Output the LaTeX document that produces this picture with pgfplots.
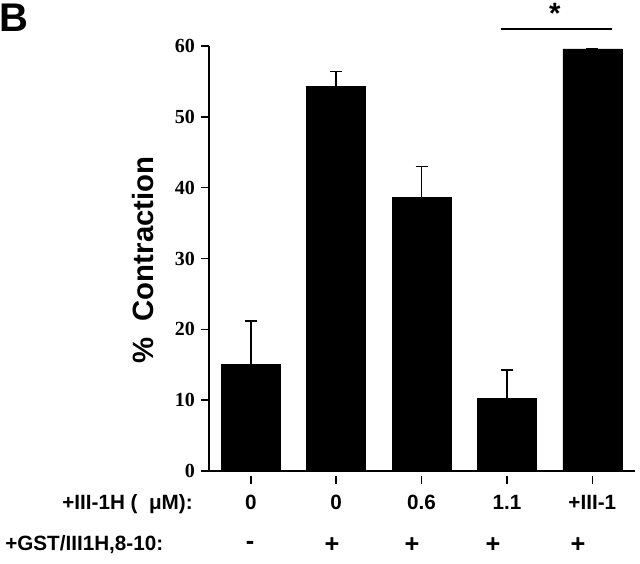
\documentclass[border=0pt]{standalone}
\usepackage{fontspec}
\setmainfont{Liberation Serif}
\newfontfamily\hv{Liberation Sans}
\usepackage{pgfplots}
\pgfplotsset{compat=1.18}
\begin{document}
\begin{tikzpicture}
\useasboundingbox (-156.75pt,-69.75pt) rectangle (323.25pt,353.25pt);
\begin{axis}[
  scale only axis, width=319.5pt, height=318.75pt,
  xmin=-0.49, xmax=4.5, ymin=0, ymax=60,
  axis x line=bottom, axis y line=left,
  axis line style={-, line width=1.2pt},
  ytick={0,10,...,60},
  xtick={0,1,2,3,4},
  xticklabels={0,0,0.6,1.1,+III-1},
  tick align=outside,
  major tick length=6pt,
  tick style={line width=1.2pt, black},
  xtick style={yshift=-3.5pt},
  yticklabel style={font=\fontsize{15}{15}\selectfont\bfseries, xshift=-1pt},
  xticklabel style={font=\hv\fontsize{15.5}{15.5}\selectfont\bfseries, yshift=-8.5pt},
  /pgf/number format/assume math mode=true,
  ybar, bar width=44.25pt,
  clip=false,
]
\addplot[fill=black, draw=black, error bars/.cd, y dir=plus, y explicit,
  error bar style={line width=1.3pt},
  error mark options={rotate=90, mark size=4.5pt, line width=1.3pt}]
 table[x=x, y=y, y error plus=e] {
 x y e
 0 15.1 6.1
 1 54.3 2.1
 2 38.6 4.4
 3 10.3 4.0
 4 59.6 0
 };
\draw[line width=1pt] (axis cs:2.93,62.4) -- (axis cs:4.23,62.4);
\node[font=\hv\fontsize{22}{22}\selectfont\bfseries] at (axis cs:3.56,64.6) {*};
\end{axis}
\node[font=\hv\fontsize{30}{30}\selectfont\bfseries] at (-146pt,339.75pt) {B};
\node[rotate=90, font=\hv\fontsize{22}{22}\selectfont\bfseries] at (-49.5pt,158.25pt) {\%\hspace{0.55em}Contraction};
\node[anchor=east, inner sep=0pt, font=\hv\fontsize{15.5}{15.5}\selectfont\bfseries] at (-12pt,-24.75pt) {+III-1H (\ \ μM):};
\node[anchor=west, inner sep=0pt, font=\hv\fontsize{15.5}{15.5}\selectfont\bfseries] at (-153pt,-55.5pt) {+GST/III1H,8-10:};
\foreach \xx/\s in {30.75/-, 92.25/+, 152.25/+, 213/+, 276.75/+}
  \node[font=\hv\fontsize{19}{19}\selectfont\bfseries] at (\xx pt,-55.5pt) {\s};
\end{tikzpicture}
\end{document}
